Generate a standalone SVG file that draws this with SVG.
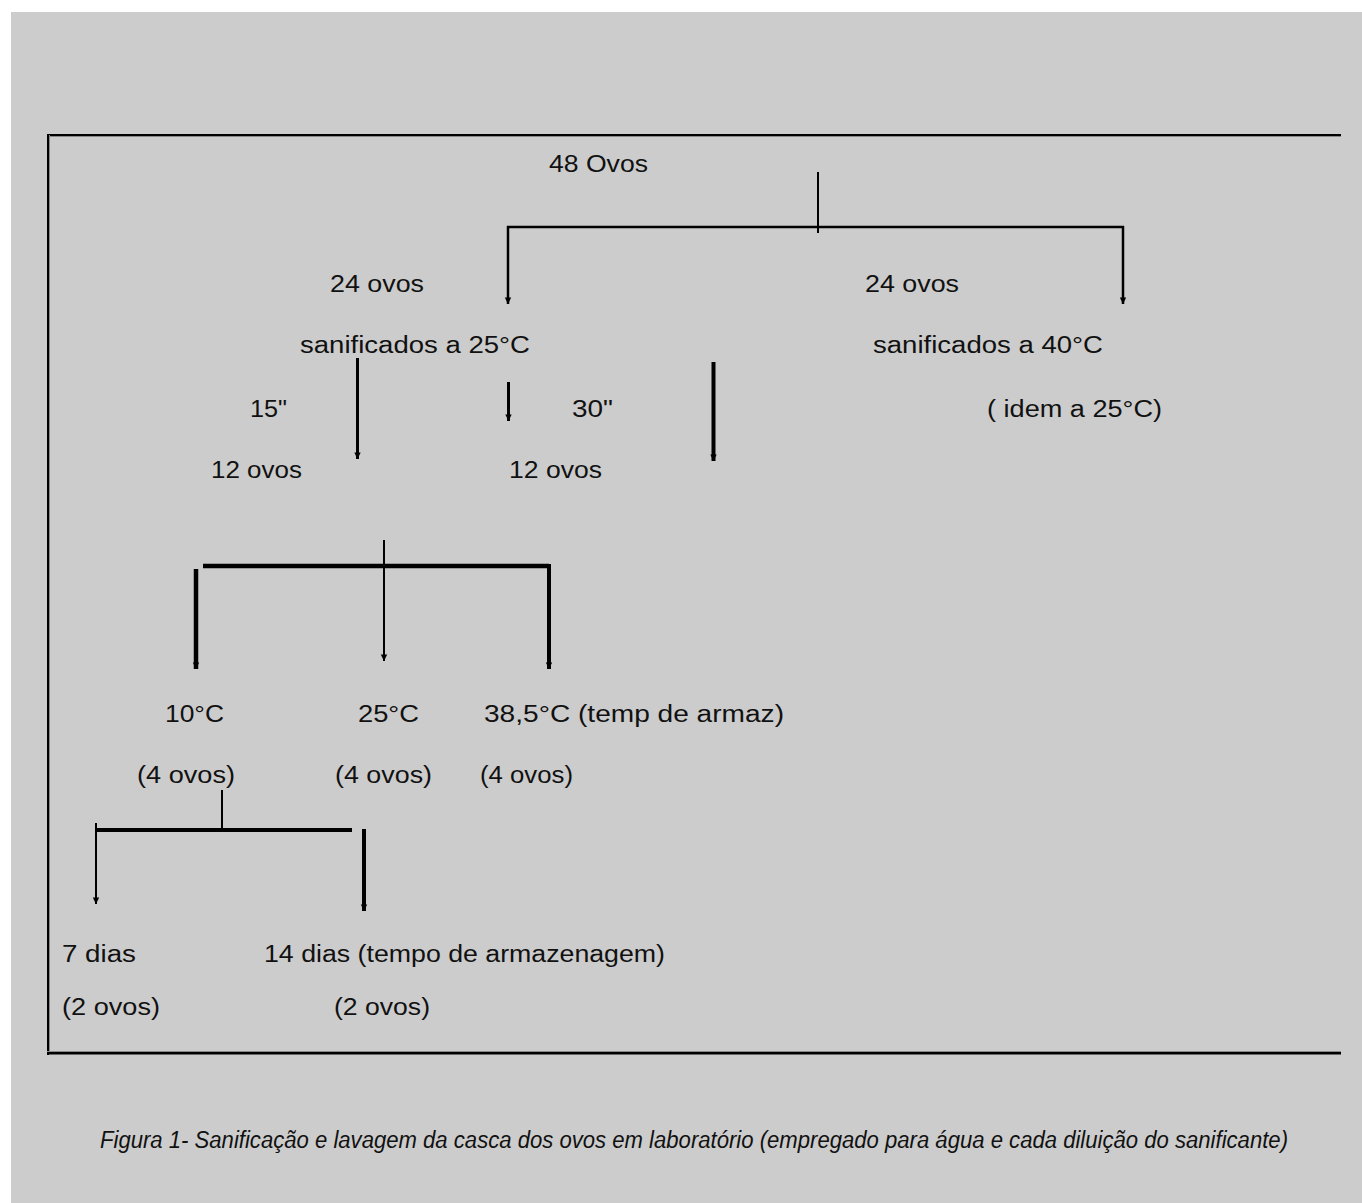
<svg xmlns="http://www.w3.org/2000/svg" width="1362" height="1203" viewBox="0 0 1362 1203">
<style>
text{font-family:"Liberation Sans",Arial,sans-serif;font-size:23.5px;fill:#111}
.cap{font-style:italic;font-size:23.5px}
.c{stroke:#000;fill:none;stroke-linecap:butt}
</style>
<defs>
<marker id="ah" markerUnits="userSpaceOnUse" markerWidth="8" markerHeight="8" viewBox="0 0 10 10" refX="9" refY="5" orient="auto">
<path d="M1,1 L9,5 L1,9 z" fill="#000"/>
</marker>
</defs>
<rect x="0" y="0" width="1362" height="1203" fill="#fff"/>
<rect x="11" y="12" width="1351" height="1191" fill="#cccccc"/>
<g id="frame">
<line x1="47" y1="136.5" x2="1341" y2="136.5" stroke="#888" stroke-width="1"/>
<line x1="47" y1="135" x2="1341" y2="135" stroke="#000" stroke-width="2"/>
<line x1="49.5" y1="135" x2="49.5" y2="1053" stroke="#888" stroke-width="1"/>
<line x1="48" y1="134" x2="48" y2="1055" stroke="#000" stroke-width="2"/>
<line x1="47" y1="1051.5" x2="1341" y2="1051.5" stroke="#888" stroke-width="1"/>
<line x1="47" y1="1053.3" x2="1341" y2="1053.3" stroke="#000" stroke-width="2.6"/>
</g>
<g id="connectors">
<line class="c" x1="818" y1="172" x2="818" y2="233" stroke-width="2"/>
<line class="c" x1="507" y1="227" x2="1124" y2="227" stroke-width="2.5"/>
<line class="c" x1="508" y1="226" x2="508" y2="304" stroke-width="2.5" marker-end="url(#ah)"/>
<line class="c" x1="1123" y1="226" x2="1123" y2="304" stroke-width="2.5" marker-end="url(#ah)"/>
<line class="c" x1="357.5" y1="358" x2="357.5" y2="459" stroke-width="3" marker-end="url(#ah)"/>
<line class="c" x1="508.5" y1="382" x2="508.5" y2="421" stroke-width="3" marker-end="url(#ah)"/>
<line class="c" x1="713.5" y1="362" x2="713.5" y2="461" stroke-width="4" marker-end="url(#ah)"/>
<line class="c" x1="384" y1="540" x2="384" y2="661" stroke-width="2" marker-end="url(#ah)"/>
<line class="c" x1="203" y1="566" x2="549" y2="566" stroke-width="4.5"/>
<line class="c" x1="196" y1="569" x2="196" y2="669" stroke-width="4.5" marker-end="url(#ah)"/>
<line class="c" x1="549" y1="564" x2="549" y2="669" stroke-width="4" marker-end="url(#ah)"/>
<line class="c" x1="222" y1="790" x2="222" y2="830" stroke-width="2"/>
<line class="c" x1="96" y1="830" x2="352" y2="830" stroke-width="4"/>
<line class="c" x1="96" y1="823" x2="96" y2="904" stroke-width="2" marker-end="url(#ah)"/>
<line class="c" x1="364" y1="829" x2="364" y2="911" stroke-width="4" marker-end="url(#ah)"/>
</g>
<g id="n-48"><text x="549" y="172" textLength="99" lengthAdjust="spacingAndGlyphs">48 Ovos</text></g>
<g id="n-24a"><text x="330" y="292" textLength="94" lengthAdjust="spacingAndGlyphs">24 ovos</text>
<text x="300" y="353" textLength="230" lengthAdjust="spacingAndGlyphs">sanificados a 25°C</text></g>
<g id="n-24b"><text x="865" y="292" textLength="94" lengthAdjust="spacingAndGlyphs">24 ovos</text>
<text x="873" y="353" textLength="230" lengthAdjust="spacingAndGlyphs">sanificados a 40°C</text>
<text x="987" y="417" textLength="175" lengthAdjust="spacingAndGlyphs">( idem a 25°C)</text></g>
<g id="l-15"><text x="250" y="417" textLength="37" lengthAdjust="spacingAndGlyphs">15"</text></g>
<g id="l-30"><text x="572" y="417" textLength="41" lengthAdjust="spacingAndGlyphs">30"</text></g>
<g id="n-12a"><text x="211" y="478" textLength="91" lengthAdjust="spacingAndGlyphs">12 ovos</text></g>
<g id="n-12b"><text x="509" y="478" textLength="93" lengthAdjust="spacingAndGlyphs">12 ovos</text></g>
<g id="n-10"><text x="165" y="722" textLength="59" lengthAdjust="spacingAndGlyphs">10°C</text>
<text x="137" y="783" textLength="98" lengthAdjust="spacingAndGlyphs">(4 ovos)</text></g>
<g id="n-25"><text x="358" y="722" textLength="61" lengthAdjust="spacingAndGlyphs">25°C</text>
<text x="335" y="783" textLength="97" lengthAdjust="spacingAndGlyphs">(4 ovos)</text></g>
<g id="n-38"><text x="484" y="722" textLength="300" lengthAdjust="spacingAndGlyphs">38,5°C  (temp de armaz)</text>
<text x="480" y="783" textLength="93" lengthAdjust="spacingAndGlyphs">(4 ovos)</text></g>
<g id="n-7"><text x="62" y="962" textLength="74" lengthAdjust="spacingAndGlyphs">7 dias</text>
<text x="62" y="1015" textLength="98" lengthAdjust="spacingAndGlyphs">(2 ovos)</text></g>
<g id="n-14"><text x="264" y="962" textLength="401" lengthAdjust="spacingAndGlyphs">14 dias (tempo de armazenagem)</text>
<text x="334" y="1015" textLength="96" lengthAdjust="spacingAndGlyphs">(2 ovos)</text></g>
<g id="caption"><text class="cap" x="100" y="1148" textLength="1188" lengthAdjust="spacingAndGlyphs">Figura 1- Sanificação e lavagem da casca dos ovos em laboratório (empregado para água e cada diluição do sanificante)</text></g>
</svg>
